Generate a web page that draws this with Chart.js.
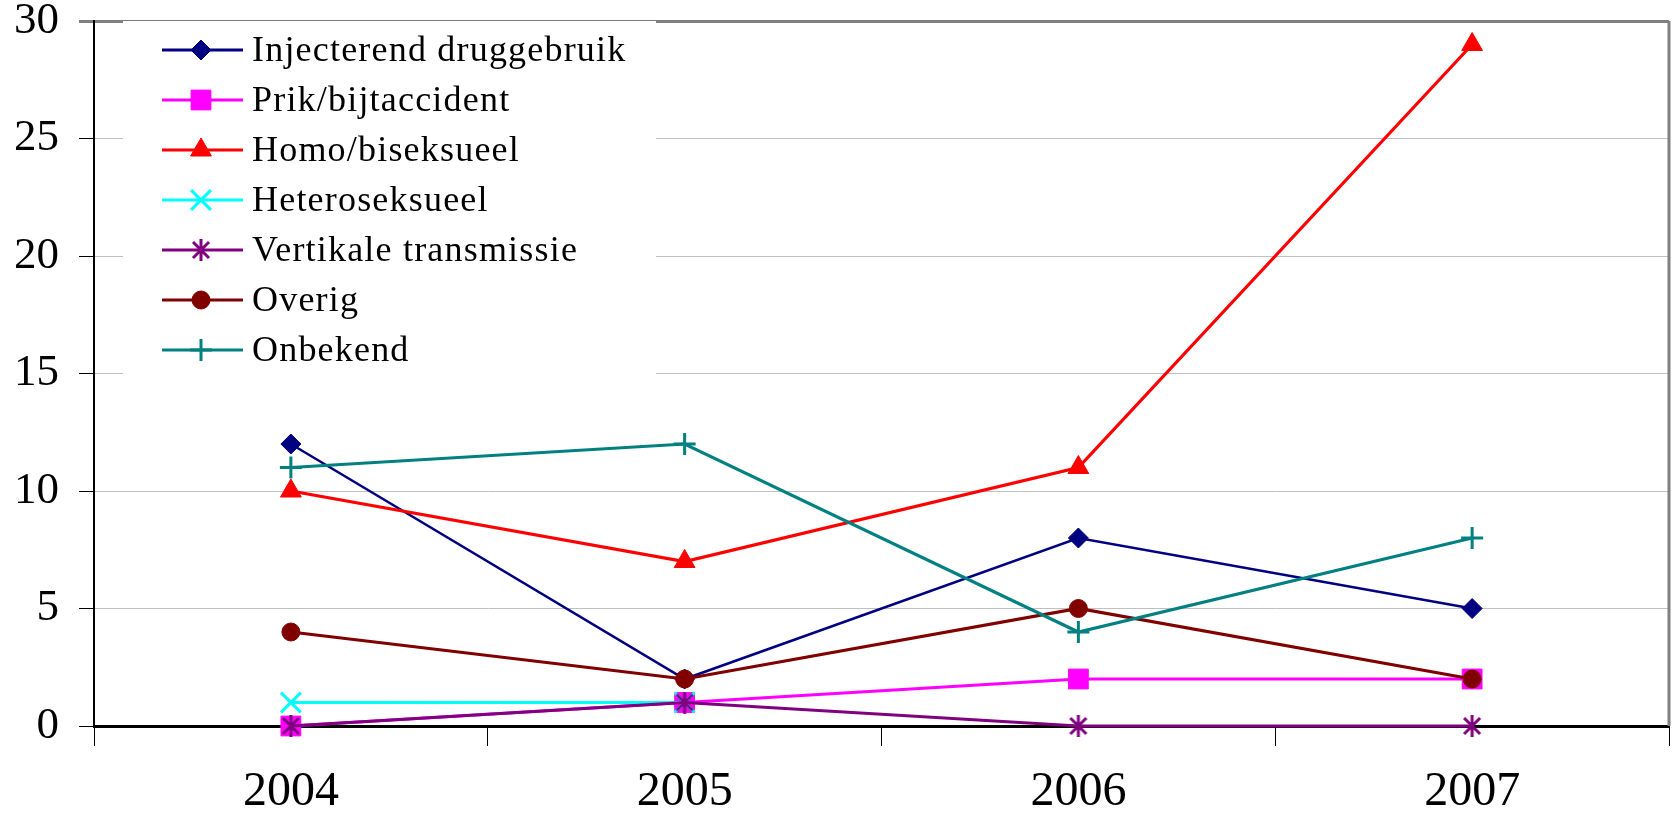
<!DOCTYPE html>
<html>
<head>
<meta charset="utf-8">
<script src="https://cdn.jsdelivr.net/npm/chart.js@4"></script>
<style>
  html, body { margin: 0; padding: 0; background: #fff; }
  #wrap { width: 1672px; height: 815px; }
</style>
</head>
<body>
<div id="wrap"><canvas id="c" width="1672" height="815"></canvas></div>
<script>
const years = ['2004', '2005', '2006', '2007'];
const seriesNames = ['Injecterend druggebruik', 'Prik/bijtaccident', 'Homo/biseksueel', 'Heteroseksueel', 'Vertikale transmissie', 'Overig', 'Onbekend'];
const injecterend = [12, 2, 8, 5];
const prik = [0, 1, 2, 2];
const homo = [10, 7, 11, 29];
const hetero = [1, 1, null, null];
const vertikaal = [0, 1, 0, 0];
const overig = [4, 2, 5, 2];
const onbekend = [11, 12, 4, 8];
const yTicks = [0, 5, 10, 15, 20, 25, 30];

const seriesValues = [injecterend, prik, homo, hetero, vertikaal, overig, onbekend];
const colors = ['#000080', '#FF00FF', '#FF0000', '#00FFFF', '#800080', '#800000', '#008080'];

// asterisk marker (x with vertical bar), Excel style
function makeAsterisk(color) {
  const c = document.createElement('canvas');
  c.width = 22; c.height = 22;
  const g = c.getContext('2d');
  g.strokeStyle = color; g.lineWidth = 3; g.lineCap = 'butt';
  g.beginPath();
  g.moveTo(3, 3); g.lineTo(19, 19);
  g.moveTo(19, 3); g.lineTo(3, 19);
  g.moveTo(11, 0); g.lineTo(11, 22);
  g.stroke();
  return c;
}

const styles = [
  { pointStyle: 'rectRot', radius: 10, bw: 1 },
  { pointStyle: 'rect', radius: 14, bw: 1 },
  { pointStyle: 'triangle', radius: 12, bw: 1 },
  { pointStyle: 'crossRot', radius: 14, bw: 3 },
  { pointStyle: makeAsterisk(colors[4]), radius: 11, bw: 3 },
  { pointStyle: 'circle', radius: 9, bw: 1 },
  { pointStyle: 'cross', radius: 11, bw: 3 }
];

const datasets = seriesNames.map((name, i) => ({
  label: name,
  data: seriesValues[i],
  borderColor: colors[i],
  backgroundColor: colors[i],
  borderWidth: i === 0 ? 2.5 : 3.2,
  pointStyle: styles[i].pointStyle,
  pointRadius: styles[i].radius,
  pointHoverRadius: styles[i].radius,
  pointBackgroundColor: colors[i],
  pointBorderColor: colors[i],
  pointBorderWidth: styles[i].bw,
  tension: 0,
  fill: false,
  clip: false,
  order: seriesNames.length - 1 - i
}));

const FONT = '"Liberation Serif", "Times New Roman", serif';

const legendPlugin = {
  id: 'customLegend',
  afterDraw(chart) {
    const ctx = chart.ctx;
    ctx.save();
    ctx.fillStyle = '#fff';
    ctx.fillRect(123, 21, 533, 353);
    chart.data.datasets.forEach((ds, i) => {
      const y = 50 + 50 * i;
      ctx.strokeStyle = ds.borderColor;
      ctx.lineWidth = 3;
      ctx.beginPath();
      ctx.moveTo(162, y); ctx.lineTo(243, y);
      ctx.stroke();
      ctx.fillStyle = ds.pointBackgroundColor;
      ctx.strokeStyle = ds.pointBorderColor;
      ctx.lineWidth = ds.pointBorderWidth;
      Chart.helpers.drawPoint(ctx, {
        pointStyle: ds.pointStyle, rotation: 0,
        radius: ds.pointRadius, borderWidth: ds.pointBorderWidth
      }, 201, y);
      ctx.fillStyle = '#000';
      ctx.font = '36px ' + FONT;
      ctx.letterSpacing = '1.2px';
      ctx.textBaseline = 'middle';
      ctx.textAlign = 'left';
      ctx.fillText(ds.label, 252, y + 2);
    });
    ctx.restore();
  }
};

const borderPlugin = {
  id: 'rightBorder',
  beforeDatasetsDraw(chart) {
    const a = chart.chartArea, ctx = chart.ctx;
    ctx.save();
    ctx.strokeStyle = '#808080';
    ctx.lineWidth = 3;
    ctx.beginPath();
    ctx.moveTo(a.right, a.top);
    ctx.lineTo(a.right, a.bottom);
    ctx.stroke();
    ctx.restore();
  }
};

new Chart(document.getElementById('c'), {
  type: 'line',
  data: { labels: years, datasets },
  options: {
    responsive: false,
    devicePixelRatio: 1,
    animation: false,
    layout: { autoPadding: false, padding: { top: 21, right: 3, left: 0, bottom: 0 } },
    plugins: { legend: { display: false }, tooltip: { enabled: false } },
    scales: {
      x: {
        type: 'category',
        offset: true,
        afterFit: s => { s.height = 89; s.paddingLeft = 0; s.paddingRight = 0; },
        grid: { offset: true, drawOnChartArea: false, drawTicks: true, tickLength: 20, color: '#000', lineWidth: 1 },
        border: { display: true, color: '#000', width: 3 },
        ticks: { color: '#000', font: { family: FONT, size: 48 }, padding: 18, maxRotation: 0 }
      },
      y: {
        min: yTicks[0],
        max: yTicks[yTicks.length - 1],
        afterFit: s => { s.width = 94; s.paddingTop = 0; s.paddingBottom = 0; },
        afterBuildTicks: s => { s.ticks = yTicks.map(v => ({ value: v })); },
        grid: {
          color: c => (c.tick && c.tick.value === 30) ? '#808080' : '#c0c0c0',
          lineWidth: c => (c.tick && c.tick.value === 30) ? 3 : 1,
          tickColor: c => (c.tick && c.tick.value === 30) ? '#808080' : '#000',
          tickLength: 15,
          drawTicks: true
        },
        border: { display: true, color: '#000', width: 2 },
        ticks: { color: '#000', font: { family: FONT, size: 45 }, padding: 20 }
      }
    }
  },
  plugins: [borderPlugin, legendPlugin]
});
</script>
</body>
</html>
